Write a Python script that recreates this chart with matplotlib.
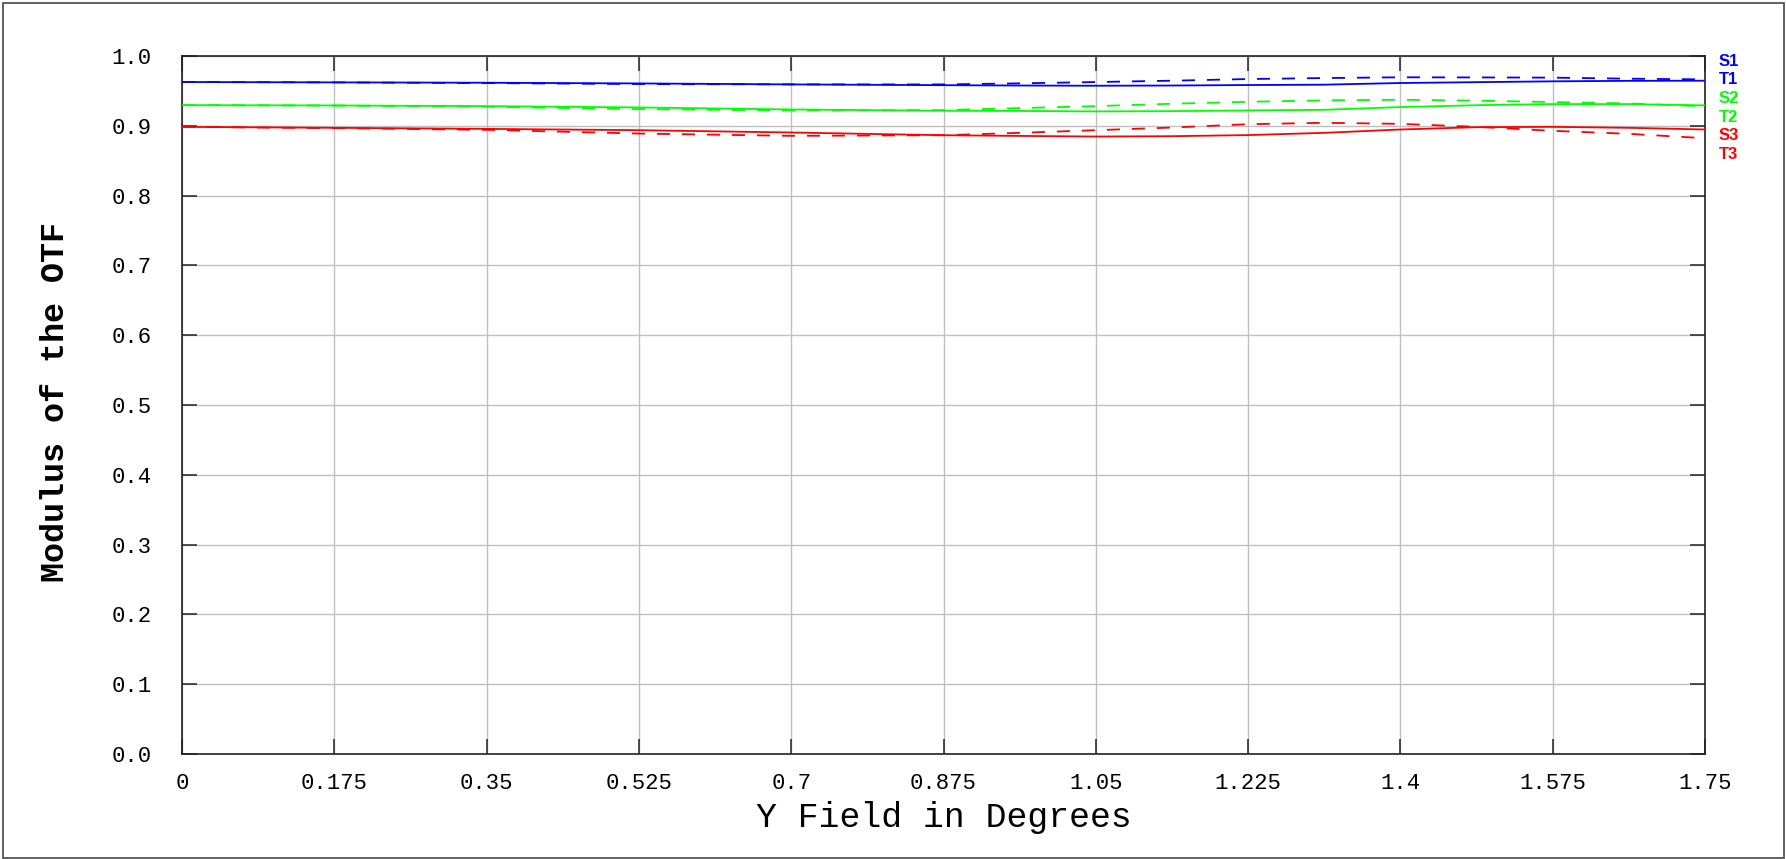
import matplotlib
matplotlib.use("Agg")
import matplotlib.pyplot as plt
from matplotlib.patches import Rectangle

# ---- data ----
field_deg = [0, 0.175, 0.35, 0.525, 0.7, 0.875, 0.9625, 1.05, 1.1375,
             1.225, 1.3125, 1.4, 1.4875, 1.575, 1.6625, 1.75]

t1 = [0.9627, 0.9622, 0.9617, 0.9607, 0.9593, 0.9582, 0.9577, 0.9574, 0.9577,
      0.9584, 0.9589, 0.9613, 0.9625, 0.9637, 0.9644, 0.9646]
s1 = [0.9627, 0.9622, 0.9612, 0.9598, 0.9593, 0.9593, 0.9608, 0.9627, 0.9646,
      0.9670, 0.9684, 0.9695, 0.9693, 0.9690, 0.9675, 0.9665]
t2 = [0.9296, 0.9291, 0.9282, 0.9263, 0.9234, 0.9215, 0.9213, 0.9206, 0.9210,
      0.9220, 0.9229, 0.9268, 0.9295, 0.9311, 0.9311, 0.9292]
s2 = [0.9296, 0.9291, 0.9272, 0.9239, 0.9220, 0.9225, 0.9253, 0.9282, 0.9316,
      0.9344, 0.9364, 0.9373, 0.9360, 0.9340, 0.9320, 0.9280]
t3 = [0.8985, 0.8971, 0.8956, 0.8937, 0.8904, 0.8865, 0.8855, 0.8846, 0.8851,
      0.8867, 0.8899, 0.8947, 0.8980, 0.8985, 0.8971, 0.8947]
s3 = [0.8985, 0.8966, 0.8942, 0.8889, 0.8856, 0.8865, 0.8899, 0.8937, 0.8975,
      0.9023, 0.9043, 0.9028, 0.8985, 0.8928, 0.8885, 0.8822]

x_ticks = [0, 0.175, 0.35, 0.525, 0.7, 0.875, 1.05, 1.225, 1.4, 1.575, 1.75]
x_tick_labels = ["0", "0.175", "0.35", "0.525", "0.7", "0.875", "1.05",
                 "1.225", "1.4", "1.575", "1.75"]
y_ticks = [0.0, 0.1, 0.2, 0.3, 0.4, 0.5, 0.6, 0.7, 0.8, 0.9, 1.0]
y_tick_labels = ["0.0", "0.1", "0.2", "0.3", "0.4", "0.5", "0.6", "0.7",
                 "0.8", "0.9", "1.0"]
legend_labels = ["S1", "T1", "S2", "T2", "S3", "T3"]

BLUE, GREEN, RED = "#0000ff", "#00ff00", "#ff0000"

plt.rcParams["lines.scale_dashes"] = False
W, H = 1786, 859
fig = plt.figure(figsize=(W / 100, H / 100), dpi=100)
ax = fig.add_axes([182 / W, 1 - 754 / H, (1705 - 182) / W, (754 - 56) / H])

dash = (0, (9.4, 8.6))
lw = 1.3
series = [(t1, BLUE, "-"), (s1, BLUE, dash),
          (t2, GREEN, "-"), (s2, GREEN, dash),
          (t3, RED, "-"), (s3, RED, dash)]
for vals, col, ls in series:
    ax.plot(field_deg, vals, color=col, linestyle=ls, linewidth=lw, zorder=3)

ax.set_xlim(0, 1.75)
ax.set_ylim(0, 1.0)
ax.set_xticks(x_ticks)
ax.set_xticklabels(x_tick_labels)
ax.set_yticks(y_ticks)
ax.set_yticklabels(y_tick_labels)
ax.grid(True, color="#c0c0c0", linewidth=1.0, zorder=1)
ax.set_axisbelow(True)

mono = "Liberation Mono"
ax.tick_params(axis="both", direction="in", length=11, width=1.1,
               color="#222222", top=True, right=True, labelsize=16)
ax.tick_params(axis="x", pad=14)
ax.tick_params(axis="y", pad=22)
for lab in ax.get_xticklabels() + ax.get_yticklabels():
    lab.set_fontfamily(mono)
for sp in ax.spines.values():
    sp.set_linewidth(1.2)
    sp.set_color("#222222")

xl = ax.set_xlabel("Y Field in Degrees", fontfamily=mono, fontsize=25)
ax.xaxis.set_label_coords(0.5, (754 - 817.5) / 698)
xl.set_verticalalignment("center")
yl = ax.set_ylabel("Modulus of the OTF", fontfamily=mono, fontsize=24,
                   fontweight="bold")
ax.yaxis.set_label_coords((56 - 182) / 1523, (754 - 402) / 698)
yl.set_verticalalignment("center")

label_cols = [BLUE, BLUE, GREEN, GREEN, RED, RED]
label_y = [61, 79.7, 98.4, 117.1, 135.8, 154.5]
for txt, col, yp in zip(legend_labels, label_cols, label_y):
    fig.text(1719 / W, 1 - yp / H, txt, color=col, fontsize=12,
             fontfamily="Liberation Sans", fontweight="bold",
             ha="left", va="center")

fig.patches.append(Rectangle((3 / W, 1.5 / H), (W - 5) / W, (H - 4) / H,
                             transform=fig.transFigure, fill=False,
                             edgecolor="#555555", linewidth=1.3))

fig.savefig("out.png", dpi=100, facecolor="white")
